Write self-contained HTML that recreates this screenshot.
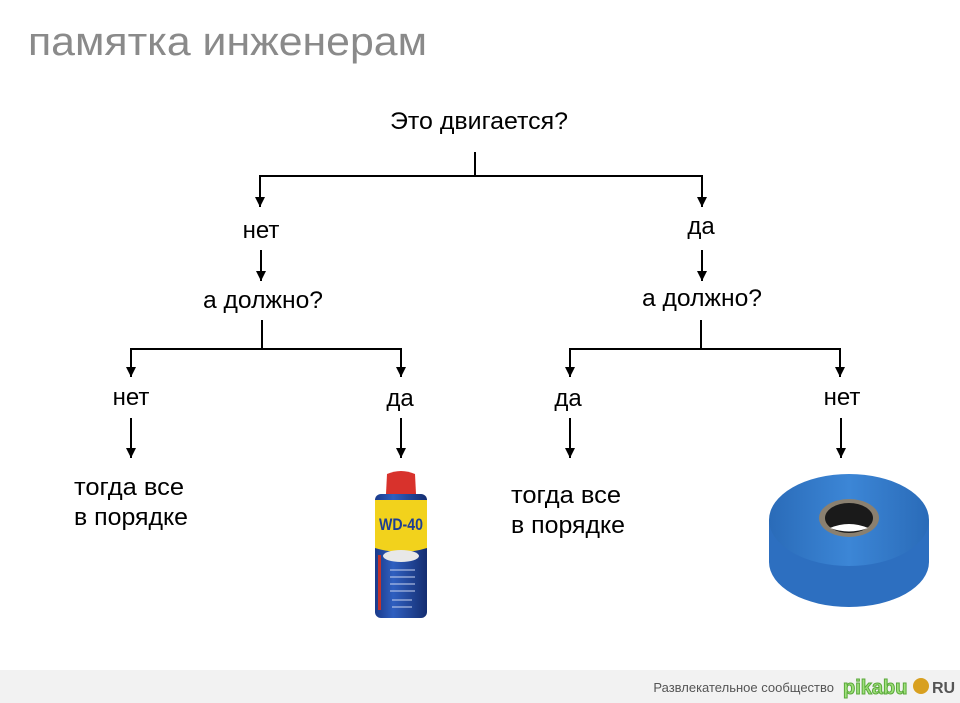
<!DOCTYPE html>
<html><head><meta charset="utf-8"><style>
html,body{margin:0;padding:0;background:#fff;}
svg{display:block;}
text{font-family:"Liberation Sans",Arial,sans-serif;}
</style></head><body>
<svg width="960" height="703" viewBox="0 0 960 703" xmlns="http://www.w3.org/2000/svg">
<defs>
<marker id="a" markerWidth="12" markerHeight="12" refX="10" refY="5" orient="auto" markerUnits="userSpaceOnUse">
<path d="M0,0 L10,5 L0,10 Z" fill="#000"/>
</marker>
<linearGradient id="can" x1="0" x2="1">
<stop offset="0" stop-color="#1a3a8a"/><stop offset="0.35" stop-color="#2f5fc0"/><stop offset="1" stop-color="#142d70"/>
</linearGradient>
<linearGradient id="tape" x1="0" x2="1">
<stop offset="0" stop-color="#2a6bb8"/><stop offset="0.5" stop-color="#3c86d6"/><stop offset="1" stop-color="#2a6bb8"/>
</linearGradient>
</defs>
<text x="28" y="55" font-size="40" fill="#8a8a8a" textLength="399" lengthAdjust="spacingAndGlyphs">памятка инженерам</text>

<g stroke="#000" stroke-width="2" fill="none">
<line x1="475" y1="152" x2="475" y2="176"/>
<line x1="259" y1="176" x2="703" y2="176"/>
<line x1="260" y1="175" x2="260" y2="207" marker-end="url(#a)"/>
<line x1="702" y1="175" x2="702" y2="207" marker-end="url(#a)"/>
<line x1="261" y1="250" x2="261" y2="281" marker-end="url(#a)"/>
<line x1="702" y1="250" x2="702" y2="281" marker-end="url(#a)"/>
<line x1="262" y1="320" x2="262" y2="349"/>
<line x1="701" y1="320" x2="701" y2="349"/>
<line x1="130" y1="349" x2="402" y2="349"/>
<line x1="569" y1="349" x2="841" y2="349"/>
<line x1="131" y1="348" x2="131" y2="377" marker-end="url(#a)"/>
<line x1="401" y1="348" x2="401" y2="377" marker-end="url(#a)"/>
<line x1="570" y1="348" x2="570" y2="377" marker-end="url(#a)"/>
<line x1="840" y1="348" x2="840" y2="377" marker-end="url(#a)"/>
<line x1="131" y1="418" x2="131" y2="458" marker-end="url(#a)"/>
<line x1="401" y1="418" x2="401" y2="458" marker-end="url(#a)"/>
<line x1="570" y1="418" x2="570" y2="458" marker-end="url(#a)"/>
<line x1="841" y1="418" x2="841" y2="458" marker-end="url(#a)"/>
</g>

<g font-size="24" fill="#000">
<text x="390" y="129" textLength="178" lengthAdjust="spacingAndGlyphs">Это двигается?</text>
<text x="261" y="238" text-anchor="middle">нет</text>
<text x="701" y="234" text-anchor="middle">да</text>
<text x="203" y="308" textLength="120" lengthAdjust="spacingAndGlyphs">а должно?</text>
<text x="642" y="306" textLength="120" lengthAdjust="spacingAndGlyphs">а должно?</text>
<text x="131" y="405" text-anchor="middle">нет</text>
<text x="400" y="406" text-anchor="middle">да</text>
<text x="568" y="406" text-anchor="middle">да</text>
<text x="842" y="405" text-anchor="middle">нет</text>
<text x="74" y="495" textLength="110" lengthAdjust="spacingAndGlyphs">тогда все</text>
<text x="74" y="525" textLength="114" lengthAdjust="spacingAndGlyphs">в порядке</text>
<text x="511" y="503" textLength="110" lengthAdjust="spacingAndGlyphs">тогда все</text>
<text x="511" y="533" textLength="114" lengthAdjust="spacingAndGlyphs">в порядке</text>
</g>

<!-- WD-40 can -->
<g>
<path d="M387,474 Q401,468 415,474 L416,494 L386,494 Z" fill="#d8322c"/>
<rect x="375" y="494" width="52" height="124" rx="6" fill="url(#can)"/>
<path d="M375,500 L427,500 L427,548 Q401,556 375,548 Z" fill="#f2d21c"/>
<text x="401" y="530" font-size="17" font-weight="bold" fill="#1d3f94" text-anchor="middle" textLength="44" lengthAdjust="spacingAndGlyphs">WD-40</text>
<ellipse cx="401" cy="556" rx="18" ry="6" fill="#e8e8e8"/>
<g stroke="#c9d4f0" stroke-width="1"><line x1="390" y1="570" x2="415" y2="570"/><line x1="390" y1="577" x2="415" y2="577"/><line x1="390" y1="584" x2="415" y2="584"/><line x1="390" y1="591" x2="415" y2="591"/><line x1="392" y1="600" x2="412" y2="600"/><line x1="392" y1="607" x2="412" y2="607"/></g>
<rect x="378" y="555" width="3" height="55" fill="#c0332c"/>
</g>

<!-- tape -->
<g>
<path d="M769,520 L769,562 A80,45 0 0 0 929,562 L929,520 Z" fill="#2d6fc0"/>
<ellipse cx="849" cy="520" rx="80" ry="46" fill="url(#tape)"/>
<ellipse cx="849" cy="518" rx="30" ry="19" fill="#8a8070"/>
<ellipse cx="849" cy="518" rx="24" ry="15" fill="#1a1a1a"/>
<path d="M830,528 Q849,520 868,528 Q849,535 830,528 Z" fill="#fff"/>
</g>

<!-- footer -->
<rect x="0" y="670" width="960" height="33" fill="#f2f2f2"/>
<text x="834" y="692" font-size="13" fill="#555" text-anchor="end">Развлекательное сообщество</text>
<text x="843" y="694" font-size="20" font-weight="bold" fill="#9ee07a" stroke="#5aa83a" stroke-width="1">pikabu</text>
<circle cx="921" cy="686" r="8" fill="#d8a020"/>
<text x="932" y="693" font-size="16" font-weight="bold" fill="#555">RU</text>
</svg>
</body></html>
